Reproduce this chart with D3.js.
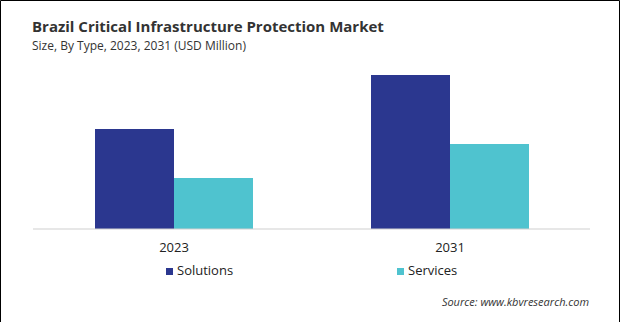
<!DOCTYPE html>
<html>
<head>
<meta charset="utf-8">
<script src="https://cdn.jsdelivr.net/npm/d3@7"></script>
<style>
  body { margin: 0; background: #fff; }
  svg { display: block; font-family: "Open Sans", "Noto Sans", sans-serif; }
</style>
</head>
<body>
<svg id="chart" width="620" height="322"></svg>
<script>
// data (relative sizes, USD million)
var years = ["2023", "2031"];
var types = ["Solutions", "Services"];
var solutions = [100, 154];
var services = [51, 85];
var colors = ["#2b378f", "#4fc3cf"];

var svg = d3.select("#chart");
var w = +svg.attr("width");
var h = +svg.attr("height");

var rows = years.map(function(y, i) {
  return { year: y, Solutions: solutions[i], Services: services[i] };
});

// frame (left, top, right)
svg.append("path")
  .attr("d", "M0.5," + h + "V0.5H" + (w - 0.5) + "V" + h)
  .attr("fill", "none")
  .attr("stroke", "#000");

// title block
svg.append("text")
  .attr("x", 32).attr("y", 32)
  .attr("font-size", 15).attr("font-weight", "bold")
  .attr("fill", "#333")
  .text("Brazil Critical Infrastructure Protection Market");

svg.append("text")
  .attr("x", 32).attr("y", 50)
  .attr("font-size", 12)
  .attr("fill", "#333")
  .text("Size, By Type, 2023, 2031 (USD Million)");

var baseY = 229;

var x0 = d3.scaleBand()
  .domain(years)
  .range([36, 588])
  .paddingInner(0)
  .paddingOuter(0);

var x1 = d3.scaleBand()
  .domain(types)
  .range([0, 158]);

var y = d3.scaleLinear()
  .domain([0, 154])
  .range([baseY, 75]);

var groups = svg.append("g").selectAll("g")
  .data(rows)
  .join("g")
  .attr("transform", function(d) {
    return "translate(" + (x0(d.year) + x0.bandwidth() / 2 - 79) + ",0)";
  });

groups.selectAll("rect")
  .data(function(d) { return types.map(function(t) { return { key: t, value: d[t] }; }); })
  .join("rect")
  .attr("x", function(d) { return x1(d.key); })
  .attr("y", function(d) { return y(d.value); })
  .attr("width", x1.bandwidth())
  .attr("height", function(d) { return baseY - y(d.value); })
  .attr("fill", function(d, i) { return colors[i]; });

// x axis
var axis = svg.append("g")
  .attr("transform", "translate(0," + baseY + ")")
  .call(d3.axisBottom(x0).tickSize(0).tickPadding(14));
axis.select(".domain").remove();
axis.append("line")
  .attr("x1", 33).attr("x2", 590)
  .attr("stroke", "#d0d0d0").attr("stroke-width", 1.2);
axis.selectAll("text")
  .attr("font-size", 13)
  .attr("fill", "#222")
  .attr("font-family", "\"Open Sans\", \"Noto Sans\", sans-serif");

// legend
var legendX = [166, 397];
var legend = svg.append("g").selectAll("g")
  .data(types)
  .join("g")
  .attr("transform", function(d, i) { return "translate(" + legendX[i] + ",268)"; });

legend.append("rect")
  .attr("width", 7).attr("height", 7)
  .attr("fill", function(d, i) { return colors[i]; });

legend.append("text")
  .attr("x", 11).attr("y", 7)
  .attr("font-size", 13)
  .attr("fill", "#222")
  .text(function(d) { return d; });

// source
svg.append("text")
  .attr("x", 589).attr("y", 306)
  .attr("text-anchor", "end")
  .attr("font-size", 11)
  .attr("font-style", "italic")
  .attr("fill", "#333")
  .text("Source: www.kbvresearch.com");
</script>
</body>
</html>
